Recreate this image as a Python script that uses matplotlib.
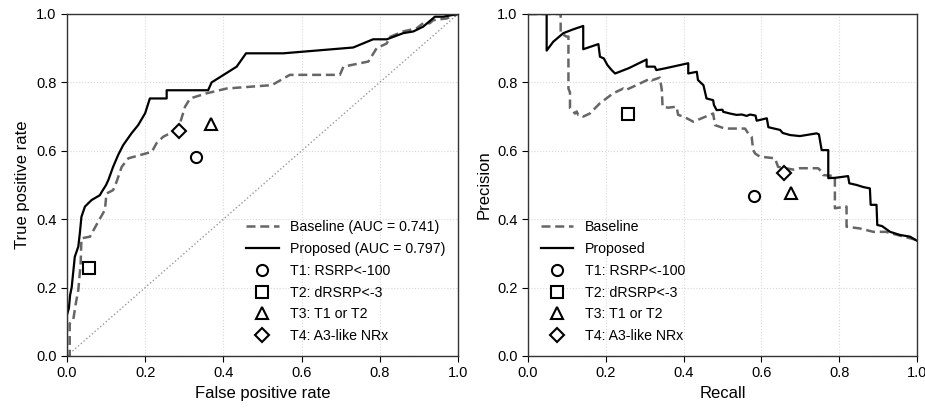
import matplotlib
matplotlib.use("Agg")
import matplotlib.pyplot as plt

plt.rcParams['font.family'] = ['Liberation Sans', 'DejaVu Sans']
plt.rcParams['font.size'] = 10

# ROC data
roc_base_fpr = [0, 0.007, 0.007, 0.016, 0.022, 0.029, 0.035, 0.037, 0.059, 0.08, 0.097, 0.101, 0.118, 0.127,
                0.14, 0.157, 0.217, 0.229, 0.246, 0.272, 0.289, 0.302, 0.315, 0.357, 0.408, 0.442, 0.524,
                0.57, 0.698, 0.707, 0.771, 0.792, 0.818, 0.826, 0.86, 0.894, 0.911, 0.928, 0.937, 0.971, 1.0]
roc_base_tpr = [0, 0.0, 0.095, 0.105, 0.15, 0.193, 0.271, 0.344, 0.349, 0.393, 0.427, 0.475, 0.485, 0.51,
                0.553, 0.578, 0.597, 0.622, 0.641, 0.656, 0.68, 0.729, 0.753, 0.768, 0.782, 0.785, 0.792,
                0.822, 0.822, 0.846, 0.861, 0.9, 0.914, 0.933, 0.949, 0.958, 0.973, 0.973, 0.982, 0.987, 1.0]

roc_prop_fpr = [0, 0.0, 0.005, 0.008, 0.012, 0.02, 0.029, 0.033, 0.037, 0.046, 0.063, 0.084, 0.089, 0.1,
                0.106, 0.118, 0.131, 0.144, 0.165, 0.182, 0.2, 0.212, 0.255, 0.255, 0.361, 0.37, 0.434,
                0.458, 0.553, 0.732, 0.783, 0.818, 0.86, 0.886, 0.911, 0.941, 0.962, 1.0]
roc_prop_tpr = [0, 0.12, 0.14, 0.178, 0.2, 0.29, 0.32, 0.36, 0.407, 0.437, 0.456, 0.47, 0.48, 0.5,
                0.515, 0.553, 0.588, 0.617, 0.651, 0.675, 0.71, 0.753, 0.753, 0.777, 0.777, 0.8, 0.846,
                0.885, 0.885, 0.902, 0.926, 0.926, 0.944, 0.949, 0.963, 0.992, 0.992, 1.0]

# PR data
pr_base_rec = [0, 0.084, 0.084, 0.099, 0.104, 0.104, 0.108, 0.108, 0.115, 0.121, 0.125, 0.129, 0.138, 0.142,
               0.159, 0.185, 0.219, 0.245, 0.25, 0.279, 0.314, 0.318, 0.339, 0.344, 0.346, 0.36, 0.382,
               0.386, 0.4, 0.425, 0.476, 0.481, 0.506, 0.558, 0.566, 0.575, 0.579, 0.584, 0.596, 0.635,
               0.643, 0.682, 0.699, 0.746, 0.755, 0.759, 0.789, 0.789, 0.819, 0.819, 0.853, 0.888, 0.92,
               0.956, 1.0]
pr_base_prec = [1.0, 1.0, 0.944, 0.934, 0.934, 0.782, 0.77, 0.724, 0.716, 0.709, 0.715, 0.705, 0.705, 0.7,
                0.709, 0.739, 0.768, 0.782, 0.777, 0.792, 0.811, 0.806, 0.814, 0.778, 0.729, 0.726, 0.729,
                0.705, 0.7, 0.685, 0.709, 0.675, 0.665, 0.665, 0.651, 0.641, 0.602, 0.592, 0.583, 0.578,
                0.553, 0.545, 0.549, 0.549, 0.539, 0.529, 0.526, 0.432, 0.437, 0.378, 0.373, 0.363, 0.363,
                0.352, 0.339]

pr_prop_rec = [0.0, 0.048, 0.048, 0.065, 0.091, 0.116, 0.142, 0.142, 0.181, 0.185, 0.195, 0.204, 0.215,
               0.224, 0.26, 0.305, 0.305, 0.326, 0.33, 0.352, 0.412, 0.412, 0.434, 0.437, 0.446, 0.451,
               0.459, 0.476, 0.478, 0.485, 0.5, 0.502, 0.519, 0.536, 0.55, 0.562, 0.571, 0.585, 0.588,
               0.614, 0.618, 0.648, 0.655, 0.674, 0.699, 0.742, 0.748, 0.755, 0.772, 0.772, 0.79, 0.823,
               0.826, 0.845, 0.862, 0.879, 0.881, 0.896, 0.898, 0.91, 0.931, 0.956, 0.982, 1.0]
pr_prop_prec = [1.0, 1.0, 0.893, 0.919, 0.944, 0.955, 0.965, 0.897, 0.912, 0.875, 0.87, 0.851, 0.836,
                0.826, 0.842, 0.867, 0.846, 0.846, 0.836, 0.841, 0.856, 0.826, 0.831, 0.807, 0.797, 0.792,
                0.753, 0.748, 0.734, 0.719, 0.72, 0.714, 0.709, 0.705, 0.706, 0.702, 0.706, 0.703, 0.688,
                0.695, 0.669, 0.661, 0.652, 0.646, 0.643, 0.651, 0.648, 0.602, 0.602, 0.52, 0.521, 0.526,
                0.505, 0.5, 0.494, 0.49, 0.442, 0.442, 0.383, 0.38, 0.363, 0.354, 0.349, 0.337]

# Threshold rules
rule_labels = ["T1: RSRP<-100", "T2: dRSRP<-3", "T3: T1 or T2", "T4: A3-like NRx"]
rule_markers = ["o", "s", "^", "D"]
rule_fpr = [0.329, 0.056, 0.368, 0.287]
rule_tpr = [0.581, 0.257, 0.677, 0.658]
rule_prec = [0.469, 0.708, 0.478, 0.536]

auc_base = 0.741
auc_prop = 0.797

ticks = [0.0, 0.2, 0.4, 0.6, 0.8, 1.0]
tick_labels = ["0.0", "0.2", "0.4", "0.6", "0.8", "1.0"]

fig = plt.figure(figsize=(9.25, 4.09), dpi=100)
ax1 = fig.add_axes([0.0724, 0.1296, 0.4227, 0.8362])
ax2 = fig.add_axes([0.5708, 0.1296, 0.4205, 0.8362])

base_kw = dict(color='#666666', linestyle=(0, (3.6, 1.9)), linewidth=1.8)
prop_kw = dict(color='black', linestyle='-', linewidth=1.6)
mk_sizes = {"o": 8, "s": 8, "^": 8, "D": 7.5}

def style(ax):
    ax.set_xlim(0, 1)
    ax.set_ylim(0, 1)
    ax.set_xticks(ticks)
    ax.set_xticklabels(tick_labels)
    ax.set_yticks(ticks)
    ax.set_yticklabels(tick_labels)
    ax.grid(True, color='#d8d8d8', linestyle=':', linewidth=0.8)
    ax.set_axisbelow(True)
    ax.tick_params(direction='out', length=4, width=0.8, labelsize=10.5)
    for s in ax.spines.values():
        s.set_linewidth(1.0)
        s.set_color('#333333')

# Left: ROC
style(ax1)
ax1.plot([0, 1], [0, 1], linestyle=':', color='#999999', linewidth=1.0)
ax1.plot(roc_base_fpr, roc_base_tpr, label=f"Baseline (AUC = {auc_base:.3f})", **base_kw)
ax1.plot(roc_prop_fpr, roc_prop_tpr, label=f"Proposed (AUC = {auc_prop:.3f})", **prop_kw)
for lab, m, x, y in zip(rule_labels, rule_markers, rule_fpr, rule_tpr):
    ax1.plot([x], [y], linestyle='none', marker=m, markersize=mk_sizes[m], markerfacecolor='white',
             markeredgecolor='black', markeredgewidth=1.5, label=lab)
ax1.set_xlabel("False positive rate", fontsize=12)
ax1.set_ylabel("True positive rate", fontsize=12)
ax1.legend(loc='lower right', frameon=False, fontsize=10.2, handlelength=2.3, labelspacing=0.55)

# Right: PR
style(ax2)
ax2.plot(pr_base_rec, pr_base_prec, label="Baseline", **base_kw)
ax2.plot(pr_prop_rec, pr_prop_prec, label="Proposed", **prop_kw)
for lab, m, x, y in zip(rule_labels, rule_markers, rule_tpr, rule_prec):
    ax2.plot([x], [y], linestyle='none', marker=m, markersize=mk_sizes[m], markerfacecolor='white',
             markeredgecolor='black', markeredgewidth=1.5, label=lab)
ax2.set_xlabel("Recall", fontsize=12)
ax2.set_ylabel("Precision", fontsize=12)
ax2.legend(loc='lower left', frameon=False, fontsize=10.2, handlelength=2.3, labelspacing=0.55)

fig.savefig("out.png", dpi=100)
